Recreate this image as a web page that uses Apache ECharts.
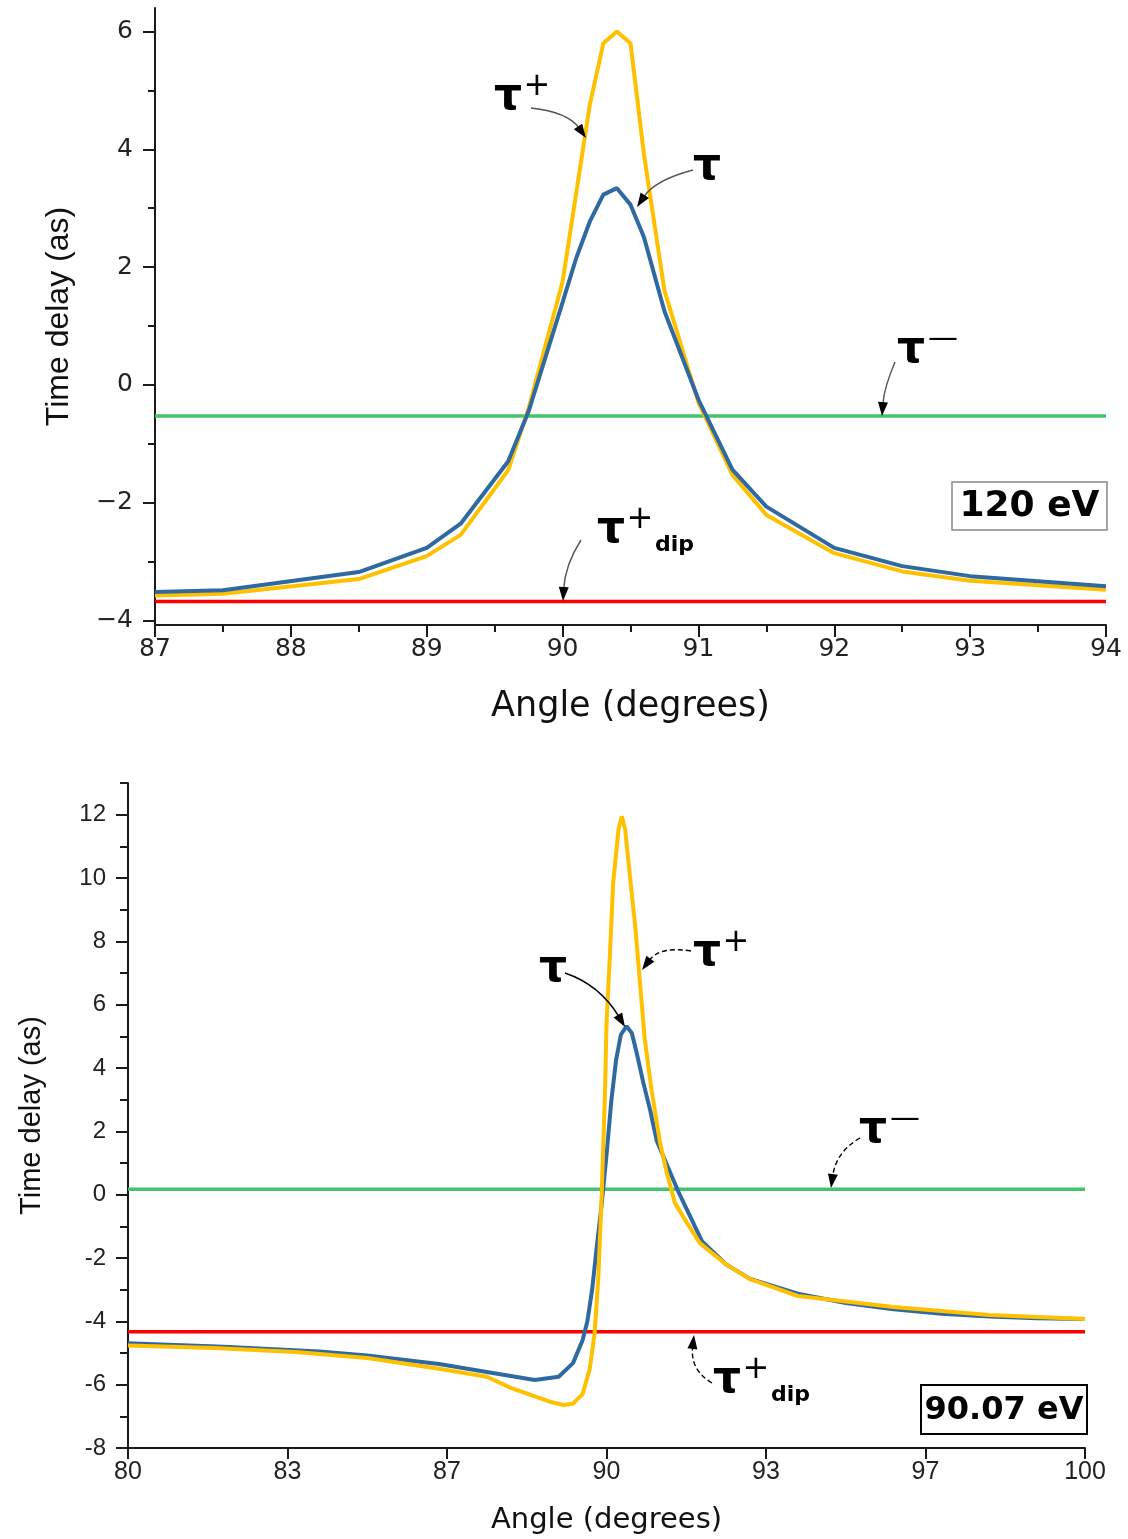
<!DOCTYPE html>
<html>
<head>
<meta charset="utf-8">
<script src="https://cdn.jsdelivr.net/npm/echarts@6/dist/echarts.min.js"></script>
<style>
html,body{margin:0;padding:0;background:#fff;}
#c{width:1128px;height:1539px;}
</style>
</head>
<body>
<div id="c"></div>
<script>
// ---------- DATA ----------
// Top panel: 120 eV
const topAngle     = [87, 87.5, 88.5, 89, 89.25, 89.6, 89.75, 90, 90.1, 90.2, 90.3, 90.4, 90.5, 90.6, 90.75, 91, 91.25, 91.5, 92, 92.5, 93, 94];
const topTau       = [-3.52, -3.49, -3.18, -2.77, -2.36, -1.30, -0.45, 1.40, 2.15, 2.77, 3.23, 3.34, 3.06, 2.50, 1.25, -0.25, -1.44, -2.07, -2.77, -3.08, -3.25, -3.42];
const topTauPlus   = [-3.58, -3.55, -3.30, -2.91, -2.55, -1.45, -0.40, 1.75, 3.25, 4.75, 5.80, 6.00, 5.80, 3.90, 1.60, -0.30, -1.53, -2.21, -2.86, -3.17, -3.33, -3.48];
const topTauMinus  = -0.53;
const topTauDip    = -3.68;
const topYTicks    = [-4, -2, 0, 2, 4, 6];
const topYMinor    = [-3, -1, 1, 3, 5];

// Bottom panel: 90.07 eV
const botAngleTau  = [80, 82, 84, 85, 86.5, 87.5, 88.5, 89, 89.3, 89.5, 89.6, 89.7, 89.8, 89.9, 90, 90.1, 90.2, 90.3, 90.42, 90.53, 90.63, 90.77, 90.91, 91.05, 91.26, 91.5, 91.68, 92, 92.5, 93, 94, 95, 96, 97, 98, 99, 100];
const botTau       = [-4.69, -4.80, -4.95, -5.08, -5.35, -5.60, -5.85, -5.75, -5.32, -4.60, -4.00, -3.00, -1.60, -0.30, 1.25, 2.95, 4.25, 5.05, 5.32, 5.10, 4.48, 3.53, 2.69, 1.70, 0.95, 0.10, -0.47, -1.48, -2.20, -2.66, -3.13, -3.42, -3.62, -3.76, -3.85, -3.90, -3.93];
const botAnglePlus = [80, 81.8, 83.5, 85, 86.5, 87.5, 88, 88.8, 89.1, 89.3, 89.5, 89.65, 89.75, 89.83, 89.9, 89.97, 90, 90.07, 90.14, 90.25, 90.32, 90.39, 90.49, 90.6, 90.7, 90.8, 90.94, 91.12, 91.26, 91.43, 91.64, 91.95, 92.5, 93, 94, 96, 98, 100];
const botTauPlus   = [-4.76, -4.84, -4.97, -5.16, -5.50, -5.75, -6.10, -6.53, -6.64, -6.60, -6.30, -5.50, -4.40, -2.60, 0.00, 3.30, 5.40, 7.53, 9.85, 11.53, 11.95, 11.53, 10.06, 8.48, 6.69, 4.90, 3.32, 1.63, 0.69, -0.26, -0.79, -1.53, -2.20, -2.67, -3.20, -3.55, -3.80, -3.93];
const botTauMinus  = 0.17;
const botTauDip    = -4.33;
const botXTicks    = [80, 80 + 10/3, 80 + 20/3, 90, 90 + 10/3, 90 + 20/3, 100];
const botYTicks    = [-8, -6, -4, -2, 0, 2, 4, 6, 8, 10, 12];
const botYMinor    = [-7, -5, -3, -1, 1, 3, 5, 7, 9, 11, 13];

// ---------- STYLE ----------
const C_BLUE = '#2f69a1', C_YEL = '#ffc000', C_GRN = '#43c46c', C_RED = '#ff0000';
const AX = '#1a1a1a';
const FONT = 'Liberation Sans, Arial, sans-serif';
const WIDE = 'DejaVu Sans, sans-serif';

function zip(xs, ys) { return xs.map((x, i) => [x, ys[i]]); }
function flat(xs, v) { return [[xs[0], v], [xs[xs.length - 1], v]]; }

const chart = echarts.init(document.getElementById('c'), null, {renderer: 'canvas'});

function xAxisBase(gi, min, max, extra) {
  return Object.assign({
    type: 'value', gridIndex: gi, min: min, max: max,
    axisLine: {show: true, onZero: false, lineStyle: {color: AX, width: 2}},
    axisTick: {show: true, inside: false, length: 12, lineStyle: {color: AX, width: 2}},
    splitLine: {show: false},
    nameLocation: 'middle'
  }, extra);
}
function yAxisBase(gi, min, max, extra) {
  return Object.assign({
    type: 'value', gridIndex: gi, min: min, max: max,
    axisLine: {show: true, onZero: false, lineStyle: {color: AX, width: 2}},
    splitLine: {show: false},
    nameLocation: 'middle', nameRotate: 90
  }, extra);
}

const option = {
  backgroundColor: '#fff',
  animation: false,
  grid: [
    {left: 155, width: 951, top: 8, height: 617},
    {left: 128, width: 957, top: 783, height: 665}
  ],
  xAxis: [
    xAxisBase(0, 87, 94, {
      interval: 1,
      minorTick: {show: true, splitNumber: 2, length: 7, lineStyle: {color: AX, width: 2}},
      axisLabel: {fontFamily: WIDE, fontSize: 25, color: '#222', margin: 12},
      name: 'Angle (degrees)', nameGap: 64,
      nameTextStyle: {fontFamily: WIDE, fontSize: 35, color: '#111'}
    }),
    xAxisBase(1, 80, 100, {
      axisTick: {show: true, inside: false, length: 11, customValues: botXTicks, lineStyle: {color: AX, width: 2}},
      axisLabel: {fontFamily: FONT, fontSize: 25, color: '#222', margin: 12, customValues: botXTicks,
                  formatter: v => String(Math.round(v))},
      name: 'Angle (degrees)', nameGap: 58,
      nameTextStyle: {fontFamily: WIDE, fontSize: 29, color: '#111'}
    })
  ],
  yAxis: [
    yAxisBase(0, -4.08, 6.4, {
      axisTick: {show: true, length: 12, customValues: topYTicks, lineStyle: {color: AX, width: 2}},
      axisLabel: {fontFamily: WIDE, fontSize: 25, color: '#222', margin: 22, customValues: topYTicks,
                  formatter: v => v < 0 ? '\u2212' + Math.abs(v) : String(v)},
      name: 'Time delay (as)', nameGap: 80,
      nameTextStyle: {fontFamily: FONT, fontSize: 32, color: '#111'}
    }),
    yAxisBase(1, -8, 13, {
      axisTick: {show: true, length: 12, customValues: botYTicks, lineStyle: {color: AX, width: 2}},
      axisLabel: {fontFamily: FONT, fontSize: 24, color: '#222', margin: 22, customValues: botYTicks},
      name: 'Time delay (as)', nameGap: 82,
      nameTextStyle: {fontFamily: FONT, fontSize: 29, color: '#111'}
    }),
    // minor ticks (top)
    yAxisBase(0, -4.08, 6.4, {
      axisLine: {show: false},
      axisTick: {show: true, length: 7, customValues: topYMinor, lineStyle: {color: AX, width: 2}},
      axisLabel: {show: false}, position: 'left'
    }),
    // minor ticks (bottom)
    yAxisBase(1, -8, 13, {
      axisLine: {show: false},
      axisTick: {show: true, length: 8, customValues: botYMinor, lineStyle: {color: AX, width: 2}},
      axisLabel: {show: false}, position: 'left'
    })
  ],
  series: [
    {type: 'line', xAxisIndex: 0, yAxisIndex: 0, data: flat(topAngle, topTauMinus), showSymbol: false, lineStyle: {color: C_GRN, width: 3.5}, z: 2},
    {type: 'line', xAxisIndex: 0, yAxisIndex: 0, data: flat(topAngle, topTauDip), showSymbol: false, lineStyle: {color: C_RED, width: 3.5}, z: 2},
    {type: 'line', xAxisIndex: 0, yAxisIndex: 0, data: zip(topAngle, topTauPlus), showSymbol: false, lineStyle: {color: C_YEL, width: 4}, z: 3},
    {type: 'line', xAxisIndex: 0, yAxisIndex: 0, data: zip(topAngle, topTau), showSymbol: false, lineStyle: {color: C_BLUE, width: 4}, z: 4},

    {type: 'line', xAxisIndex: 1, yAxisIndex: 1, data: flat(botAngleTau, botTauMinus), showSymbol: false, lineStyle: {color: C_GRN, width: 3.5}, z: 2},
    {type: 'line', xAxisIndex: 1, yAxisIndex: 1, data: flat(botAngleTau, botTauDip), showSymbol: false, lineStyle: {color: C_RED, width: 3.5}, z: 2},
    {type: 'line', xAxisIndex: 1, yAxisIndex: 1, data: zip(botAngleTau, botTau), showSymbol: false, lineStyle: {color: C_BLUE, width: 4}, z: 3},
    {type: 'line', xAxisIndex: 1, yAxisIndex: 1, data: zip(botAnglePlus, botTauPlus), showSymbol: false, lineStyle: {color: C_YEL, width: 4}, z: 4}
  ]
};
chart.setOption(option);

// ---------- ANNOTATIONS ----------
const G = [];
function txt(x, y, s, size, weight, family, align, va) {
  G.push({type: 'text', x: x, y: y, silent: true, z: 20,
    style: {text: s, fontSize: size, fontWeight: weight || 'normal', fontFamily: family || WIDE,
            fill: '#000', align: align || 'center', verticalAlign: va || 'middle'}});
}
function arrow(sx, sy, cx, cy, tx, ty, color, dash) {
  const dx = tx - cx, dy = ty - cy, L = Math.hypot(dx, dy) || 1;
  const ux = dx / L, uy = dy / L, hl = 14, hw = 5;
  const bx = tx - ux * hl, by = ty - uy * hl;
  G.push({type: 'bezierCurve', silent: true, z: 20,
    shape: {x1: sx, y1: sy, cpx1: cx, cpy1: cy, x2: bx + ux * 2, y2: by + uy * 2},
    style: {stroke: color, lineWidth: 1.4, fill: null, lineDash: dash ? [5, 3] : null}});
  G.push({type: 'polygon', silent: true, z: 21,
    shape: {points: [[tx, ty], [bx - uy * hw, by + ux * hw], [bx + uy * hw, by - ux * hw]]},
    style: {fill: '#000'}});
}
function tauLabel(x, y, sup, sub) {
  txt(x, y, '\u03c4', 44, 'bold');
  if (sup === '+') txt(x + 29, y - 11, '+', 32, 'normal', WIDE);
  if (sup === '-') txt(x + 32, y - 12, '\u2014', 30, 'normal', WIDE);
  if (sub) txt(x + 44, y + 14, sub, 22, 'bold', WIDE, 'left');
}
function box(x, y, w, h, s, size, stroke, lw) {
  G.push({type: 'rect', silent: true, z: 19, shape: {x: x, y: y, width: w, height: h},
    style: {fill: '#fff', stroke: stroke, lineWidth: lw}});
  txt(x + w / 2, y + h / 2 + 1, s, size, 'bold', WIDE);
}

// top panel
tauLabel(508, 98, '+');
arrow(531, 108, 568, 112, 586, 138, '#555', false);
tauLabel(707, 168, null);
arrow(693, 170, 655, 180, 637, 207, '#555', false);
tauLabel(911, 351, '-');
arrow(895, 362, 884, 388, 882, 416, '#555', false);
tauLabel(611, 531, '+', 'dip');
arrow(581, 540, 565, 565, 563, 601, '#555', false);
box(952, 482, 155, 48, '120 eV', 36, '#888', 1.5);

// bottom panel
tauLabel(553, 970, null);
arrow(565, 973, 600, 985, 625, 1027, '#000', false);
tauLabel(707, 954, '+');
arrow(691, 951, 660, 946, 642, 970, '#000', true);
tauLabel(873, 1131, '-');
arrow(860, 1138, 836, 1152, 831, 1188, '#000', true);
tauLabel(727, 1381, '+', 'dip');
arrow(712, 1383, 690, 1370, 694, 1335, '#000', true);
box(921, 1385, 166, 49, '90.07 eV', 32, '#000', 2);

chart.setOption({graphic: {elements: G}});
</script>
</body>
</html>
